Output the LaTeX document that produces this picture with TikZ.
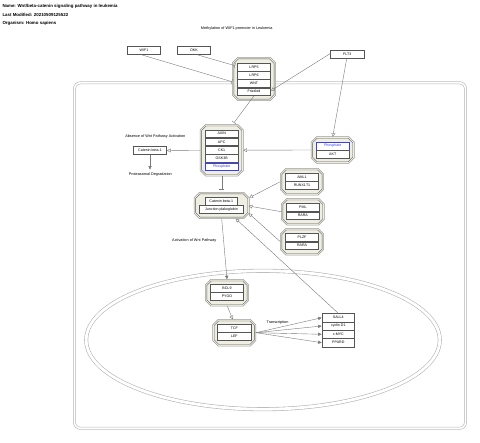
\documentclass[tikz,border=0pt]{standalone}
\usepackage{fontspec}
\setmainfont{Liberation Sans}
\usetikzlibrary{arrows.meta,calc}
\definecolor{cfill}{HTML}{EEEEE2}
\definecolor{cline}{HTML}{9A9A9A}
\definecolor{cinner}{HTML}{5A5A5A}
\definecolor{gbox}{HTML}{555555}
\definecolor{edgec}{HTML}{7A7A7A}
\definecolor{wall}{HTML}{B4B4B4}
\definecolor{phos}{HTML}{3B3BFF}
\tikzset{
  anchorbox/.style={rectangle, inner sep=0pt, outer sep=0pt},
  octout/.style={draw=cline, fill=cfill, line width=0.55pt},
  octin/.style={draw=cinner, line width=0.35pt},
  gene/.style={rectangle, draw=gbox, fill=white, line width=0.45pt, inner sep=0pt,
    minimum height=7.8pt, font=\fontsize{3.6}{4}\selectfont},
  phosbox/.style={gene, draw=phos, text=phos},
  lbl/.style={inner sep=0pt, font=\fontsize{3.8}{4.5}\selectfont},
  ttl/.style={inner sep=0pt, anchor=west, font=\bfseries\fontsize{4.4}{5}\selectfont},
  edge/.style={draw=edgec, line width=0.4pt},
  opentri/.style={edge, -{Triangle[open, length=3.6pt, width=3.8pt]}},
  teebar/.style={edge, -{Bar[width=5.5pt]}},
  fillarr/.style={edge, -{Triangle[length=3.6pt, width=3.2pt]}},
}
% name, cx, cy, w, h
\newcommand\cplx[5]{%
  \pgfmathsetmacro\hw{#4/2}\pgfmathsetmacro\hh{#5/2}%
  \node[anchorbox, minimum width=#4pt, minimum height=#5pt] (#1) at (#2,#3) {};
  \path[octout, shift={(#2,#3)}] (-\hw+5.5,-\hh) -- (\hw-5.5,-\hh) -- (\hw,-\hh+5.5) -- (\hw,\hh-5.5)
    -- (\hw-5.5,\hh) -- (-\hw+5.5,\hh) -- (-\hw,\hh-5.5) -- (-\hw,-\hh+5.5) -- cycle;
  \path[octin, shift={(#2,#3)}] (-\hw+6.1,-\hh+1.6) -- (\hw-6.1,-\hh+1.6) -- (\hw-1.6,-\hh+6.1) -- (\hw-1.6,\hh-6.1)
    -- (\hw-6.1,\hh-1.6) -- (-\hw+6.1,\hh-1.6) -- (-\hw+1.6,\hh-6.1) -- (-\hw+1.6,-\hh+6.1) -- cycle;
}
\begin{document}
\begin{tikzpicture}[x=1pt,y=-1pt]
\useasboundingbox (0,0) rectangle (480,443);
% titles
\node[ttl] (t1) at (2.3,6.7) {Name: Wnt/beta-catenin signaling pathway in leukemia};
\node[ttl] (t2) at (2.3,15) {Last Modified: 20210509125522};
\node[ttl] (t3) at (2.3,23.3) {Organism: Homo sapiens};
% cell and nucleus
\draw[draw=wall, line width=0.6pt, double=white, double distance=1.6pt, rounded corners=6pt]
  (74.5,82.8) rectangle (465.5,428.3);
\draw[draw=wall, line width=0.6pt, double=white, double distance=2.8pt]
  (263,340) ellipse [x radius=176.8pt, y radius=69.2pt];
% labels
\node[lbl] (lmeth) at (236.7,29) {Methylation of WIF1 promoter in Leukemia};
\node[lbl] (labs) at (155.3,136.3) {Absence of Wnt Pathway Activation};
\node[lbl] (lprot) at (150.3,174.6) {Proteasomal Degradation};
\node[lbl] (lact) at (194.3,240.3) {Activation of Wnt Pathway};
\node[lbl] (ltr) at (277.5,322.3) {Transcription};
% free genes
\node[gene, minimum width=33.4pt] (wif) at (144,50.5) {WIF1};
\node[gene, minimum width=33.4pt] (dkk) at (194,50.5) {DKK};
\node[gene, minimum width=33.4pt] (flt) at (347.3,54.5) {FLT3};
\node[gene, minimum width=33.4pt] (catl) at (150,150.5) {Catenin beta-1};
% top complex
\cplx{top}{254}{79}{43.4}{43.4}
\node[gene, minimum width=33.4pt] (lrp5) at (254,67.6) {LRP5};
\node[gene, minimum width=33.4pt] (lrp6) at (254,75.5) {LRP6};
\node[gene, minimum width=33.4pt] (wnt) at (254,83.4) {WNT};
\node[gene, minimum width=33.4pt] (fz) at (254,91.7) {Frizzled};
% destruction complex
\cplx{dc}{221.7}{150.2}{43.3}{51.7}
\node[gene, minimum width=32.7pt] (axin) at (221.7,133.7) {AXIN};
\node[gene, minimum width=32.7pt] (apc) at (221.7,141.8) {APC};
\node[gene, minimum width=32.7pt] (ck1) at (221.7,150.3) {CK1};
\node[gene, minimum width=32.7pt] (gsk) at (221.7,158.5) {GSK3B};
\node[phosbox, minimum width=32.7pt] (ph1) at (221.7,166.7) {Phosphate};
% AKT complex
\cplx{akt}{332.7}{150}{43.3}{26.6}
\node[phosbox, minimum width=33.3pt] (ph2) at (332.7,145.9) {Phosphate};
\node[gene, minimum width=33.3pt] (aktg) at (332.7,154.3) {AKT};
% catenin/junction complex
\cplx{cj}{221.7}{205.5}{55.3}{26.4}
\node[gene, minimum width=32pt] (catb) at (221.3,201.3) {Catenin beta-1};
\node[gene, minimum width=44.4pt] (jup) at (221.5,209.4) {Junction plakoglobin};
% AML1 complex
\cplx{aml}{302}{181.7}{43.4}{26.7}
\node[gene, minimum width=33.4pt] (aml1) at (302,177.5) {AML1};
\node[gene, minimum width=33.4pt] (runx) at (302,185.5) {RUNX1T1};
% PML complex
\cplx{pml}{302.8}{211.7}{43}{26.7}
\node[gene, minimum width=33pt] (pmlg) at (302.8,207.3) {PML};
\node[gene, minimum width=33pt] (rara1) at (302.8,215.7) {RARA};
% PLZF complex
\cplx{plzf}{302}{241.7}{43.4}{26.7}
\node[gene, minimum width=33.4pt] (plzfg) at (302,237.3) {PLZF};
\node[gene, minimum width=33.4pt] (rara2) at (302,245.7) {RARA};
% BCL9 complex
\cplx{bcl}{227}{292.7}{43.4}{26.7}
\node[gene, minimum width=33.4pt] (bcl9) at (227,288.5) {BCL9};
\node[gene, minimum width=33.4pt] (pygo) at (227,296.5) {PYGO};
% TCF complex
\cplx{tcf}{234.3}{332.7}{43.3}{26.7}
\node[gene, minimum width=33.3pt] (tcfg) at (234.3,328.5) {TCF};
\node[gene, minimum width=33.3pt] (lef) at (234.3,336.5) {LEF};
% targets
\node[gene, minimum width=32.7pt, minimum height=8.3pt] (sall) at (338.3,317.7) {SALL4};
\node[gene, minimum width=32.7pt, minimum height=8.3pt] (ccnd) at (338.3,326) {cyclin D1};
\node[gene, minimum width=32.7pt, minimum height=8.3pt] (myc) at (338.3,334.3) {c-MYC};
\node[gene, minimum width=32.7pt, minimum height=8.3pt] (ppard) at (338.3,342.7) {PPARD};
% edges
\draw[teebar] ($(wif.south)+(-3,0)$) -- ($(top.center)+(-22,2.7)$);
\draw[teebar] ($(dkk.south)+(2.7,0)$) -- ($(top.center)+(-19,-13.3)$);
\draw[opentri] ($(flt.west)+(0,-1)$) -- ($(top.center)+(17,11.7)$);
\draw[opentri] ($(flt.south)+(-0.6,0)$) -- (akt.north);
\draw[teebar] (fz.south) -- ($(dc.center)+(12.3,-27.5)$);
\draw[opentri] (akt.west) -- (dc.east);
\draw[opentri] (dc.west) -- (catl.east);
\draw[fillarr] (catl.south) -- ($(catl.south)+(0,15)$);
\draw[teebar] (dc.south) -- ($(cj.north)+(0,-3)$);
\draw[opentri] (aml.west) -- ($(cj.center)+(27.6,-7.8)$);
\draw[opentri] (pml.west) -- ($(cj.center)+(27,0.5)$);
\draw[opentri] (plzf.west) -- ($(cj.center)+(27,7.8)$);
\draw[opentri] (sall.north) -- ($(cj.center)+(14,13.2)$);
\draw[fillarr] (cj.south) -- (bcl.north);
\draw[opentri] ($(bcl.south)+(0.3,0)$) -- ($(tcf.north)+(-1.6,0)$);
\draw[fillarr] (tcf.east) -- (sall.west);
\draw[fillarr] (tcf.east) -- (ccnd.west);
\draw[fillarr] (tcf.east) -- (myc.west);
\draw[fillarr] (tcf.east) -- (ppard.west);
\end{tikzpicture}
\end{document}
